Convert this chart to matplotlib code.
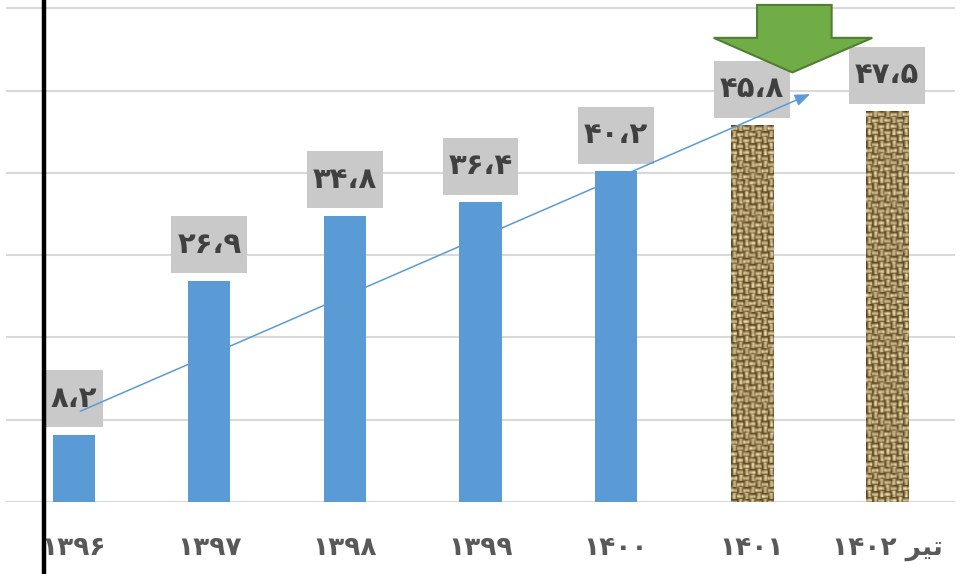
import numpy as np
import matplotlib
matplotlib.use('Agg')
import matplotlib.pyplot as plt
from matplotlib.patches import Polygon
from matplotlib.lines import Line2D
from matplotlib.path import Path

plt.rcParams['font.family'] = ['DejaVu Sans']

# داده ها
years = ['۱۳۹۶', '۱۳۹۷', '۱۳۹۸', '۱۳۹۹', '۱۴۰۰', '۱۴۰۱', '۱۴۰۲ \uFEAE\uFEF4\uFE97']  # تیر ۱۴۰۲
values = [8.2, 26.9, 34.8, 36.4, 40.2, 45.8, 47.5]
textured = [False, False, False, False, False, True, True]

FA_DIGITS = str.maketrans('0123456789.', '۰۱۲۳۴۵۶۷۸۹،')


def to_fa(v):
    return f'{v:.1f}'.translate(FA_DIGITS)


def label_box(x0, y0, width, height, mutation_size):
    # کادر خاکستری با حاشیه عمودی بیشتر
    px = 0.2 * mutation_size
    py = 0.5 * mutation_size
    x0, y0 = x0 - px, y0 - py
    x1, y1 = x0 + width + 2 * px, y0 + height + 2 * py
    return Path([(x0, y0), (x1, y0), (x1, y1), (x0, y1), (x0, y0)], closed=True)


def burlap(rows, cols):
    # بافت گونی برای دو ستون آخر
    i, j = np.mgrid[0:rows, 0:cols]
    cell = 6
    horiz = ((i // cell + j // cell) % 2) == 0
    thread_h = np.sin(np.pi * (i % cell) / cell) ** 2
    thread_v = np.sin(np.pi * (j % cell) / cell) ** 2
    t = np.where(horiz, thread_h, thread_v)
    t = 0.7 * t + 0.3 * (np.sin(i * 0.37 + j * 0.11) * np.cos(j * 0.53 - i * 0.07)) ** 2
    t = (t - t.min()) / (t.max() - t.min())
    dark = np.array([0.36, 0.27, 0.12])
    light = np.array([0.96, 0.90, 0.70])
    return dark + t[..., None] * (light - dark)


fig = plt.figure(figsize=(9.78, 5.74), dpi=100)
ax = fig.add_axes([6 / 978, 72 / 574, 949 / 978, 502 / 574])

x = np.arange(len(values))
width = 0.31
bars = ax.bar(x, values, width=width, color='#5B9BD5', zorder=3)

ax.set_xlim(-0.5, len(values) - 0.5)
ax.set_ylim(0, 61)

for b, v, t in zip(bars, values, textured):
    if t:
        b.set_facecolor('none')
        x0, y0 = b.get_x(), b.get_y()
        tex = burlap(int(v * 8.2), 42)
        im = ax.imshow(tex, extent=[x0, x0 + b.get_width(), y0, y0 + b.get_height()],
                       aspect='auto', zorder=3, interpolation='bilinear')
        im.set_clip_path(b)

# برچسب مقادیر
for xi, v in zip(x, values):
    ax.annotate(to_fa(v), (xi, v), xytext=(0, 36), textcoords='offset pixels',
                ha='center', va='center', fontsize=21, fontweight='bold', color='#404040',
                bbox=dict(boxstyle=label_box, fc='#C9C9C9', ec='none'), zorder=5)

# خط روند
ax.annotate('', xy=(5.45, 49.7), xytext=(0.03, 10.9),
            arrowprops=dict(arrowstyle='-|>,head_length=0.9,head_width=0.35', color='#5B9BD5', lw=1.1),
            zorder=6)

# فلش سبز
arrow = Polygon([(5.04, 60.4), (5.59, 60.4), (5.59, 56.4), (5.89, 56.4), (5.30, 52.2),
                 (4.72, 56.4), (5.04, 56.4)], closed=True, fc='#70AD47', ec='#507E32',
                lw=1.5, zorder=7)
ax.add_patch(arrow)

ax.set_yticks(np.arange(0, 61, 10))
ax.yaxis.grid(True, color='#D9D9D9', lw=1.5, zorder=0)
ax.set_yticklabels([])
ax.tick_params(axis='y', length=0)
ax.set_xticks(x)
ax.set_xticklabels(years, fontsize=19, fontweight='bold', color='#595959')
ax.tick_params(axis='x', length=0, pad=24)
for s in ax.spines.values():
    s.set_visible(False)

# خط عمودی سیاه سمت چپ
fig.add_artist(Line2D([44 / 978, 44 / 978], [0, 1], color='black', lw=3.2))

fig.savefig('out.png', dpi=100, facecolor='white')
